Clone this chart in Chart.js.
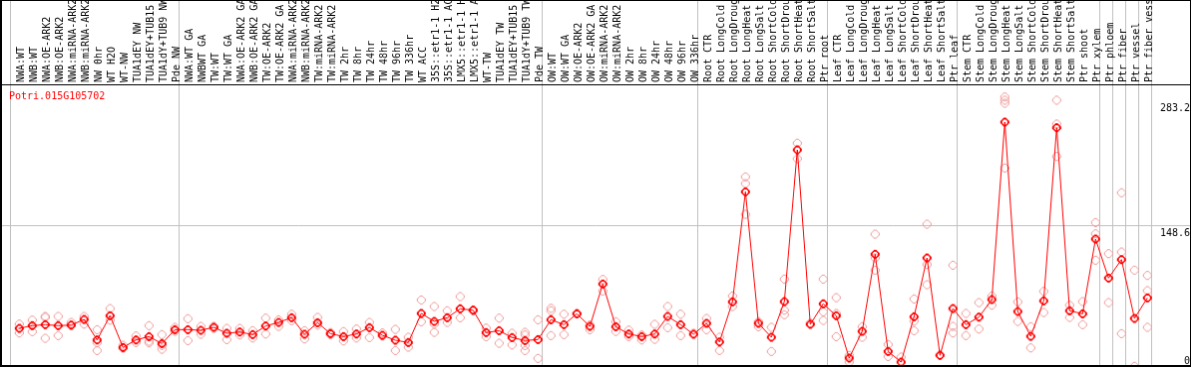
<!DOCTYPE html>
<html>
<head>
<meta charset="utf-8">
<script src="https://cdn.jsdelivr.net/npm/chart.js@4"></script>
<style>
body{margin:0;background:#fff;}
#plot{display:block;border-style:solid;border-color:#000;border-width:1px 1px 2px 2px;}
</style>
</head>
<body>
<canvas id="plot" width="1191" height="367"></canvas>
<script>
const geneName='Potri.015G105702';

const sampleNames=[
  'NWA:WT','NWB:WT','NWA:OE-ARK2','NWB:OE-ARK2','NWA:miRNA-ARK2','NWB:miRNA-ARK2','NW 0hr','WT H2O','WT-NW',
  'TUA1dEY NW','TUA1dEY+TUB15','TUA1dY+TUB9 NW','Pde NW',
  'NWA:WT GA','NWBWT GA','TW:WT','TW:WT GA','NWA:OE-ARK2 GA','NWB:OE-ARK2 GA','TW:OE-ARK2','TW:OE-ARK2 GA',
  'NWA:miRNA-ARK2','NWB:miRNA-ARK2','TW:miRNA-ARK2','TW:miRNA-ARK2','TW 2hr','TW 8hr','TW 24hr','TW 48hr',
  'TW 96hr','TW 336hr','WT ACC','35S::etr1-1 H2O','35S::etr1-1 ACC','LMX5::etr1-1 H2O','LMX5::etr1-1 ACC',
  'WT-TW','TUA1dEY TW','TUA1dEY+TUB15','TUA1dY+TUB9 TW','Pde TW',
  'OW:WT','OW:WT GA','OW:OE-ARK2','OW:OE-ARK2 GA','OW:miRNA-ARK2','OW:miRNA-ARK2','OW 2hr','OW 8hr','OW 24hr',
  'OW 48hr','OW 96hr','OW 336hr',
  'Root CTR','Root LongCold','Root LongDrought','Root LongHeat','Root LongSalt','Root ShortCold',
  'Root ShortDrought','Root ShortHeat','Root ShortSalt','Ptr root',
  'Leaf CTR','Leaf LongCold','Leaf LongDrought','Leaf LongHeat','Leaf LongSalt','Leaf ShortCold',
  'Leaf ShortDrought','Leaf ShortHeat','Leaf ShortSalt','Ptr leaf',
  'Stem CTR','Stem LongCold','Stem LongDrought','Stem LongHeat','Stem LongSalt','Stem ShortCold',
  'Stem ShortDrought','Stem ShortHeat','Stem ShortSalt','Ptr shoot','Ptr xylem',
  'Ptr phloem','Ptr fiber','Ptr vessel','Ptr fiber vessel'
];

const meanValues=[
  38.0,40.9,42.0,40.9,41.5,47.6,25.5,51.6,17.3,25.5,29.1,21.6,36.6,
  36.6,35.9,39.1,32.7,34.0,31.3,40.5,44.4,49.5,31.6,44.1,32.3,29.1,31.9,38.8,30.5,25.2,22.7,
  54.1,45.5,49.5,59.1,57.6,33.4,35.5,28.1,24.8,25.9,
  47.3,42.0,53.7,40.1,85.9,39.8,31.9,29.1,31.9,50.9,42.0,31.6,
  43.4,23.3,66.6,185.4,43.4,28.4,66.9,230.7,42.3,64.5,
  51.6,5.9,34.8,118.0,13.1,1.6,50.5,114.0,8.8,59.4,
  42.0,50.1,69.1,260.7,56.2,29.4,67.7,254.6,57.0,53.7,134.4,
  92.3,112.2,48.7,70.9
];

const replicateValues=[
  [42.6,33.0],[46.9,34.5],[50.9,49.8,27.3],[50.9,30.2],[44.4,41.0],[50.9,42.6],[36.6,22.3,14.1],
  [59.4,46.9],[19.8,16.5],[29.8,22.7],[40.9,24.1,22.3],[31.3,19.5,15.5],[39.1,34.8],
  [48.4,24.8],[40.1,31.6],[40.1,38.0],[38.0,25.9],[38.0,30.8],[35.5,27.6],[49.0,31.9],[47.3,40.1],
  [53.3,46.3],[35.5,26.6],[49.8,41.5],[33.5,31.0],[34.5,24.4],[37.3,27.6],[44.4,28.1],[33.0,29.8],
  [36.9,14.1],[28.4,17.7],[68.7,45.2],[61.6,42.6,33.7],[57.0,44.4],[72.3,49.5],[58.0,57.0],
  [38.3,29.1],[49.0,21.9],[32.7,20.1],[33.7,30.8,19.5,14.1],[47.3,5.6],
  [59.7,57.0,30.2],[53.3,31.3],[54.4],[41.5,36.6],[90.8,78.4],[45.2,34.8],[36.2,29.1],[30.8,25.5],
  [42.3,26.2],[61.6,38.8],[53.3,30.2],[32.7],
  [48.7,36.6],[28.4,14.1],[73.0,61.6],[201.5,194.3,161.1],[45.2,39.8],[39.1,13.1],[91.2,57.6,52.7],
  [237.9,221.1],[43.7],[91.2,55.9,46.6],
  [71.2,54.1,29.1],[8.8,1.6],[39.8,28.4],[139.7,114.0,100.9],[20.6,7.7],[7.0],[69.8,45.8,35.5],
  [150.4,106.9,85.1],[9.4],[106.2,40.1,33.0],
  [54.1,30.2],[65.8,37.3],[73.0,63.0],[287.8,284.3,281.0,211.1],[66.6,45.5],[39.8,16.9],[77.9,55.1],
  [284.3,258.6,223.6],[63.0,49.8],[66.9,42.0],[152.2,140.0,111.6],
  [118.6,65.8],[184.4,120.4,32.3],[100.9,-3.0],[95.1,78.7,39.1]
];

// index of first sample in each group (last entry closes the final group)
const groupStarts=[0,13,41,53,63,73,84,85,86,87,88];

const yTickValues=[0,148.6,283.2];
const yTickLabels=['0','148.6','283.2'];

loading();

function loading(){
    ExpressionChart();
}

// crisp pixel ring, a second inner ring makes the bold version
function markerCanvas(color,bold){
    const c=document.createElement('canvas');
    c.width=11;c.height=11;
    const g=c.getContext('2d');
    g.fillStyle=color;
    const octant=bold?[[0,4],[1,4],[2,3],[0,3],[1,3],[2,2]]:[[0,4],[1,4],[2,3]];
    octant.forEach(([a,b])=>{
        [[a,b],[b,a]].forEach(([p,q])=>{
            [[p,q],[-p,q],[p,-q],[-p,-q]].forEach(([x,y])=>g.fillRect(5+x,5+y,1,1));
        });
    });
    return c;
}

function ExpressionChart(){
    const ctx=document.getElementById('plot');
    const boundaries=groupStarts.map(k=>k-0.7154);
    const meanPoints=meanValues.map((v,i)=>({x:i,y:v}));
    const repPoints=[];
    replicateValues.forEach((list,i)=>list.forEach(v=>repPoints.push({x:i,y:v})));

    const titlePlugin={
        id:'geneTitle',
        afterDraw(chart){
            const g=chart.ctx;
            g.save();
            g.fillStyle='#ff0000';
            g.font='10px "DejaVu Sans Mono"';
            g.textBaseline='middle';
            g.fillText(geneName,chart.chartArea.left+7,chart.chartArea.top+12);
            g.restore();
        }
    };

    new Chart(ctx,{
        type:'line',
        data:{
            datasets:[
                {
                    label:'mean',
                    data:meanPoints,
                    borderColor:'#ff0000',
                    borderWidth:1,
                    pointStyle:markerCanvas('#ff0000',true),
                    pointRadius:5,
                    tension:0,
                    order:0
                },
                {
                    label:'replicates',
                    data:repPoints,
                    showLine:false,
                    pointStyle:markerCanvas('#ef9a9a',false),
                    pointRadius:5,
                    order:1
                }
            ]
        },
        options:{
            responsive:false,
            animation:false,
            devicePixelRatio:1,
            layout:{padding:0,autoPadding:false},
            plugins:{
                legend:{display:false},
                tooltip:{enabled:false}
            },
            scales:{
                x:{
                    type:'linear',
                    position:'top',
                    min:-1.3308,
                    max:90.2846,
                    afterBuildTicks:(s)=>{
                        s.ticks=boundaries.concat(sampleNames.map((n,i)=>i))
                            .sort((a,b)=>a-b).map(v=>({value:v}));
                    },
                    afterFit:(s)=>{s.height=84;s.paddingLeft=0;s.paddingRight=0;},
                    grid:{
                        color:(c)=>c.tick&&!Number.isInteger(c.tick.value)?'#c0c0c0':'rgba(0,0,0,0)',
                        tickLength:84,
                        drawOnChartArea:true,
                        drawTicks:true
                    },
                    border:{display:true,color:'#000'},
                    ticks:{
                        autoSkip:false,
                        minRotation:90,
                        maxRotation:90,
                        padding:-82,
                        labelOffset:14,
                        color:'#000',
                        font:{family:'DejaVu Sans Mono',size:10},
                        callback:(v)=>Number.isInteger(v)?sampleNames[v]:''
                    }
                },
                y:{
                    type:'linear',
                    position:'right',
                    min:-1.6,
                    max:301.4,
                    afterBuildTicks:(s)=>{s.ticks=yTickValues.map(v=>({value:v}));},
                    afterFit:(s)=>{s.width=0;s.paddingTop=0;s.paddingBottom=0;},
                    grid:{
                        color:(c)=>c.tick&&c.tick.value===yTickValues[1]?'#c0c0c0':'rgba(0,0,0,0)',
                        drawTicks:false
                    },
                    border:{display:false},
                    ticks:{
                        mirror:true,
                        padding:0,
                        labelOffset:2.5,
                        color:'#000',
                        font:{family:'DejaVu Sans Mono',size:10,lineHeight:1},
                        callback:(v)=>{
                            const t=yTickLabels[yTickValues.indexOf(v)];
                            return v===0?[t,'']:['',t];
                        }
                    }
                }
            }
        },
        plugins:[titlePlugin]
    });
}
</script>
</body>
</html>
